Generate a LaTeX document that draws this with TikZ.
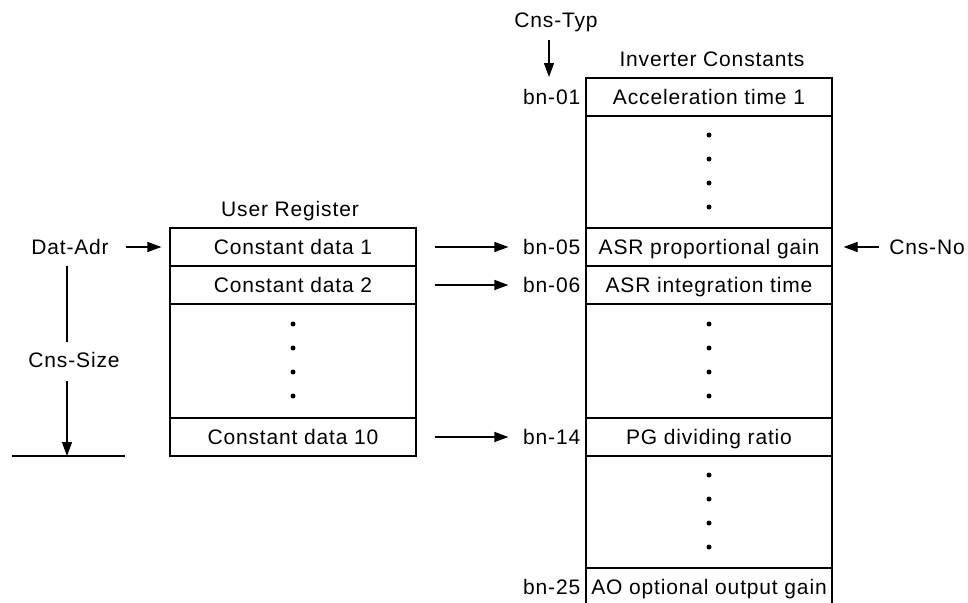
\documentclass[tikz,border=0pt]{standalone}
\usepackage{fontspec}
\setmainfont{Liberation Sans}[LetterSpace=4]
\usetikzlibrary{arrows.meta}
\tikzset{
  txt/.style={inner sep=0pt, text height=15pt, text depth=0pt, font=\fontsize{21}{24}\selectfont},
  cell/.style={txt, draw, line width=1.2pt, minimum width=246pt},
  arr/.style={line width=1.2pt, -{Triangle[length=14pt,width=10pt]}},
  ln/.style={line width=1.2pt},
  dotm/.style={fill=black, circle, inner sep=0pt, minimum size=5pt}
}
\begin{document}
\begin{tikzpicture}[x=1pt,y=-1pt]
\useasboundingbox (0,0) rectangle (968,602);
\clip (0,0) rectangle (968,602);
% titles
\node[txt] (ttyp) at (556,20) {Cns-Typ};
\node[txt] (tinv) at (712,59) {Inverter Constants};
\node[txt] (tusr) at (290,209) {User Register};
% right column
\node[cell, minimum height=38pt]  (ac1)  at (709,97)  {Acceleration time 1};
\node[cell, minimum height=112pt] (rd1)  at (709,172) {};
\node[cell, minimum height=38pt]  (asrp) at (709,247) {ASR proportional gain};
\node[cell, minimum height=38pt]  (asri) at (709,285) {ASR integration time};
\node[cell, minimum height=114pt] (rd2)  at (709,361) {};
\node[cell, minimum height=38pt]  (pg)   at (709,437) {PG dividing ratio};
\node[cell, minimum height=112pt] (rd3)  at (709,512) {};
\node[cell, minimum height=38pt]  (ao)   at (709,587) {AO optional output gain};
% bn labels
\node[txt, anchor=east] (b01) at ([xshift=-5pt]ac1.west)  {bn-01};
\node[txt, anchor=east] (b05) at ([xshift=-5pt]asrp.west) {bn-05};
\node[txt, anchor=east] (b06) at ([xshift=-5pt]asri.west) {bn-06};
\node[txt, anchor=east] (b14) at ([xshift=-5pt]pg.west)   {bn-14};
\node[txt, anchor=east] (b25) at ([xshift=-5pt]ao.west)   {bn-25};
% left column
\node[cell, minimum height=38pt]  (cd1)  at (293,247) {Constant data 1};
\node[cell, minimum height=38pt]  (cd2)  at (293,285) {Constant data 2};
\node[cell, minimum height=114pt] (ld)   at (293,361) {};
\node[cell, minimum height=38pt]  (cd10) at (293,437) {Constant data 10};
% dots
\foreach \c in {rd1,rd2,rd3,ld}{
  \foreach \d in {-37,-13,11,35}{
    \node[dotm] at ([yshift=-\d pt]\c.center) {};
  }
}
% side labels
\node[txt] (dadr) at (70,247) {Dat-Adr};
\node[txt] (cno)  at (927,247) {Cns-No};
\node[txt] (csz)  at (74,360) {Cns-Size};
% arrows
\coordinate (ct1) at (549,40);
\coordinate (ct2) at (549,77);
\draw[arr] (ct1) -- (ct2);
\draw[arr] ([xshift=17pt]dadr.east) -- ([xshift=-8pt]cd1.west);
\draw[arr] ([xshift=18pt]cd1.east) -- ([xshift=-77pt]asrp.west);
\draw[arr] ([xshift=18pt]cd2.east) -- ([xshift=-77pt]asri.west);
\draw[arr] ([xshift=18pt]cd10.east) -- ([xshift=-77pt]pg.west);
\draw[arr] ([xshift=-10pt]cno.west) -- ([xshift=11pt]asrp.east);
% Cns-Size
\coordinate (cs0) at (67,266);
\coordinate (cs1) at (67,342);
\coordinate (cs2) at (67,381);
\coordinate (cs3) at (67,456);
\coordinate (bl) at (12,456);
\coordinate (br) at (125,456);
\draw[ln] (cs0) -- (cs1);
\draw[arr] (cs2) -- (cs3);
\draw[ln] (bl) -- (br);
\end{tikzpicture}
\end{document}
